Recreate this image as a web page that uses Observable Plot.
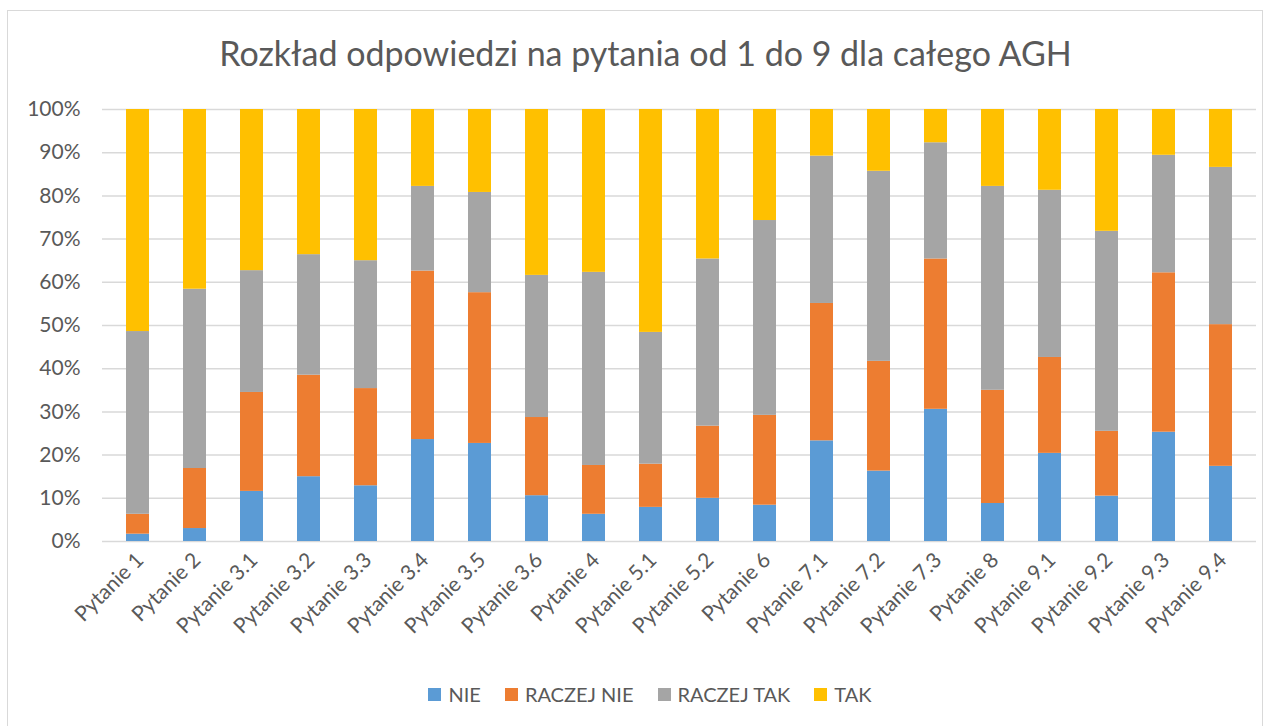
<!DOCTYPE html>
<html>
<head>
<meta charset="utf-8">
<script src="https://cdn.jsdelivr.net/npm/d3@7"></script>
<script src="https://cdn.jsdelivr.net/npm/@observablehq/plot@0.6"></script>
<style>
  html, body { margin: 0; padding: 0; background: white; }
  body { width: 1271px; height: 726px; position: relative; overflow: hidden; font-family: Lato, "Open Sans", sans-serif; }
  #frame { position: absolute; left: 7px; top: 10px; width: 1256px; height: 730px; border: 1px solid #d9d9d9; box-sizing: border-box; z-index: 5; pointer-events: none; }
  #title { position: absolute; left: 0; top: 36px; width: 1291px; text-align: center; font-size: 34px; line-height: 34px; color: #595959; white-space: nowrap; }
  #chart { position: absolute; left: 0; top: 90px; }
  #legend { position: absolute; left: 0; top: 684px; width: 1300px; display: flex; justify-content: center; gap: 24px; font-size: 20px; line-height: 20px; color: #595959; }
  .item { display: flex; align-items: center; gap: 7px; }
  .sw { width: 13px; height: 13px; display: inline-block; }
</style>
</head>
<body>
<div id="title">Rozkład odpowiedzi na pytania od 1 do 9 dla całego AGH</div>
<div id="chart"></div>
<div id="legend"></div>
<div id="frame"></div>
<script>
const categories = ["Pytanie 1","Pytanie 2","Pytanie 3.1","Pytanie 3.2","Pytanie 3.3","Pytanie 3.4","Pytanie 3.5","Pytanie 3.6","Pytanie 4","Pytanie 5.1","Pytanie 5.2","Pytanie 6","Pytanie 7.1","Pytanie 7.2","Pytanie 7.3","Pytanie 8","Pytanie 9.1","Pytanie 9.2","Pytanie 9.3","Pytanie 9.4"];
const series = ["NIE","RACZEJ NIE","RACZEJ TAK","TAK"];
const colors = ["#5B9BD5","#ED7D31","#A5A5A5","#FFC000"];
const nie =       [1.7,3.0,11.6,15.0,12.9,23.6,22.7,10.6,6.3,7.9,10.0,8.4,23.3,16.3,30.6,8.8,20.4,10.5,25.3,17.4];
const raczejNie = [4.6,13.9,22.9,23.5,22.5,39.0,34.9,18.1,11.3,10.0,16.7,20.8,31.8,25.4,34.8,26.2,22.2,15.0,36.9,32.8];
const raczejTak = [42.3,41.5,28.2,27.9,29.6,19.6,23.2,32.9,44.7,30.5,38.7,45.1,34.1,44.0,26.9,47.2,38.7,46.3,27.2,36.4];
const tak =       [51.4,41.6,37.3,33.6,35.0,17.8,19.2,38.4,37.7,51.6,34.6,25.7,10.8,14.3,7.7,17.8,18.7,28.2,10.6,13.4];
const yTicks = [0,10,20,30,40,50,60,70,80,90,100];

const valuesBySeries = [nie, raczejNie, raczejTak, tak];
const table = [];
series.forEach((s, si) => {
  categories.forEach((q, qi) => table.push({q, s, v: valuesBySeries[si][qi]}));
});

const chart = Plot.plot({
  width: 1271,
  height: 570,
  marginTop: 19,
  marginBottom: 119,
  marginLeft: 102,
  marginRight: 15,
  style: {fontFamily: "Lato, 'Open Sans', sans-serif", color: "#595959", background: "transparent"},
  x: {domain: categories, paddingInner: 0.6, paddingOuter: 0.3},
  y: {domain: [0, 100]},
  color: {domain: series, range: colors},
  marks: [
    Plot.gridY(yTicks, {stroke: "#d9d9d9", strokeOpacity: 1, strokeWidth: 1.5}),
    Plot.barY(table, {x: "q", y: "v", fill: "s", order: series}),
    Plot.axisY({ticks: yTicks, tickFormat: d => d + "%", tickSize: 0, tickPadding: 22, fontSize: 21, label: null}),
    Plot.axisX({tickRotate: -45, tickSize: 0, tickPadding: 15, fontSize: 21, label: null, dx: 2})
  ]
});
document.getElementById("chart").appendChild(chart);

const legend = document.getElementById("legend");
series.forEach((s, i) => {
  const it = document.createElement("div");
  it.className = "item";
  const sw = document.createElement("span");
  sw.className = "sw";
  sw.style.background = colors[i];
  const t = document.createElement("span");
  t.textContent = s;
  it.appendChild(sw); it.appendChild(t);
  legend.appendChild(it);
});
</script>
</body>
</html>
